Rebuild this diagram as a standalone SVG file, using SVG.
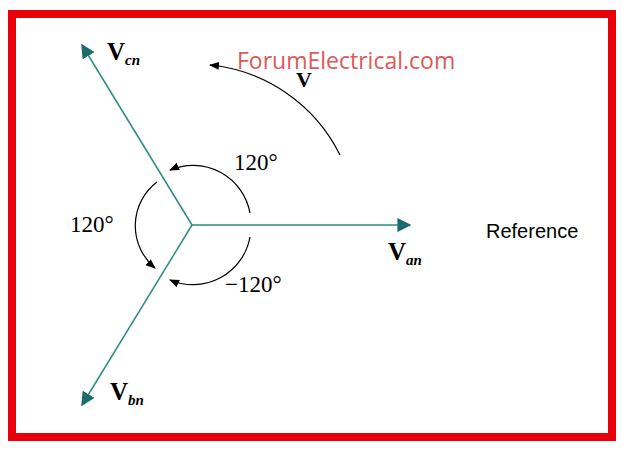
<svg xmlns="http://www.w3.org/2000/svg" width="623" height="451" viewBox="0 0 623 451">
<style>
.ph{stroke:#2e8b82;stroke-width:1.5;fill:none}
.arc{stroke:#000;stroke-width:1.2;fill:none}
.t{font-family:"Liberation Serif",serif;font-size:23px;fill:#000}
.v{font-family:"Liberation Serif",serif;font-weight:bold;fill:#000}
</style>
<defs>
<marker id="ta" viewBox="0 0 10 10" refX="9" refY="5" markerWidth="14" markerHeight="14" markerUnits="userSpaceOnUse" orient="auto"><path d="M0,0L10,5L0,10Z" fill="#1d6b6b"/></marker>
<marker id="ba" viewBox="0 0 10 10" refX="9" refY="5" markerWidth="10" markerHeight="10" markerUnits="userSpaceOnUse" orient="auto"><path d="M0,1L10,5L0,9Z" fill="#000"/></marker>
</defs>
<rect x="0" y="0" width="623" height="451" fill="#fff"/>
<rect x="12" y="14" width="600" height="423" fill="none" stroke="#e8000b" stroke-width="8"/>
<g id="connectors">
<line class="ph" x1="192" y1="225" x2="410" y2="225" marker-end="url(#ta)"/>
<line class="ph" x1="192" y1="225" x2="82" y2="45" marker-end="url(#ta)"/>
<line class="ph" x1="192" y1="225" x2="82" y2="405" marker-end="url(#ta)"/>
<path class="arc" d="M250,213 A58,58 0 0 0 170,170" marker-end="url(#ba)"/>
<path class="arc" d="M157,182 A55,55 0 0 0 155,268" marker-end="url(#ba)"/>
<path class="arc" d="M250,237 A58,58 0 0 1 170,280" marker-end="url(#ba)"/>
<path class="arc" d="M340,155 A163,163 0 0 0 210,65" marker-end="url(#ba)"/>
</g>
<g id="labels">
<text class="v" x="107" y="60" font-size="25">V<tspan font-size="15" font-style="italic" dy="5">cn</tspan></text>
<text class="v" x="388" y="260" font-size="25">V<tspan font-size="15" font-style="italic" dy="5">an</tspan></text>
<text class="v" x="110" y="400" font-size="25">V<tspan font-size="15" font-style="italic" dy="5">bn</tspan></text>
<text class="v" x="296" y="87" font-size="22">V</text>
<text class="t" x="234" y="170">120°</text>
<text class="t" x="70" y="232">120°</text>
<text class="t" x="225" y="292">−120°</text>
<text x="486" y="238" font-family="Liberation Sans,Arial,sans-serif" font-size="20" fill="#000">Reference</text>
<text x="237" y="69" font-family="Open Sans,sans-serif" font-size="23" fill="#e05858">ForumElectrical.com</text>
</g>
</svg>
